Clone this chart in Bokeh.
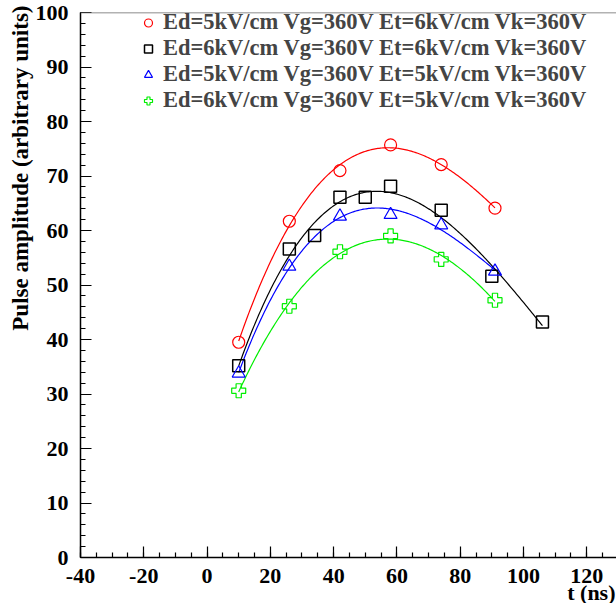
import numpy as np
from bokeh.plotting import figure
from bokeh.models import Range1d, Legend, LegendItem, FixedTicker, Span, Title
from bokeh.embed import file_html
from bokeh.resources import INLINE

FONT = "Liberation Serif"

# ---- data ----
x_major = [-40, -20, 0, 20, 40, 60, 80, 100, 120]
x_minor = [v for v in range(-40, 131, 5)]
y_major = [0, 10, 20, 30, 40, 50, 60, 70, 80, 90, 100]
y_minor = [v for v in range(0, 101, 2)]

x_title = "t (ns)"
y_title = "Pulse amplitude (arbitrary units)"

labels = [
    "Ed=5kV/cm Vg=360V Et=6kV/cm Vk=360V",
    "Ed=6kV/cm Vg=360V Et=6kV/cm Vk=360V",
    "Ed=5kV/cm Vg=360V Et=5kV/cm Vk=360V",
    "Ed=6kV/cm Vg=360V Et=5kV/cm Vk=360V",
]

t_red = [10, 26, 42, 58, 74, 91]
a_red = [39.5, 61.7, 71.0, 75.7, 72.1, 64.1]

t_black = [10, 26, 34, 42, 50, 58, 74, 90, 106]
a_black = [35.2, 56.6, 59.1, 66.1, 66.1, 68.1, 63.7, 51.6, 43.2]

t_blue = [10, 26, 42, 58, 74, 91]
a_blue = [33.8, 53.4, 62.6, 62.9, 61.0, 52.5]

t_green = [10, 26, 42, 58, 74, 91]
a_green = [30.6, 46.1, 56.1, 59.0, 54.7, 47.2]

p = figure(width=616, height=603,
           x_range=Range1d(-40, 129.4), y_range=Range1d(0, 100),
           output_backend="svg", toolbar_location=None,
           min_border_left=80, min_border_right=0,
           min_border_top=12, min_border_bottom=46)
p.outline_line_color = None
p.xgrid.visible = False
p.ygrid.visible = False
p.background_fill_color = "white"

for ax, majors, minors in ((p.xaxis[0], x_major, x_minor), (p.yaxis[0], y_major, y_minor)):
    ax.ticker = FixedTicker(ticks=majors, minor_ticks=minors)
    ax.major_label_overrides = {v: str(v) for v in majors}
    ax.major_tick_in = 11
    ax.major_tick_out = 0
    ax.minor_tick_in = 5
    ax.minor_tick_out = 0
    ax.axis_line_width = 1.5
    ax.axis_line_color = "black"
    ax.major_tick_line_width = 1.2
    ax.minor_tick_line_width = 1.2
    ax.major_label_text_font = FONT
    ax.major_label_text_font_style = "bold"
    ax.major_label_text_font_size = "22px"
    ax.major_label_text_color = "black"

p.xaxis.major_label_standoff = 11
p.yaxis.major_label_standoff = 12

p.add_layout(Title(text=x_title, align="right", text_font=FONT, text_font_style="bold",
                   text_font_size="22px", text_color="black", standoff=-15, offset=1), "below")
p.add_layout(Title(text=y_title, align="right", text_font=FONT, text_font_style="bold",
                   text_font_size="23px", text_color="black", standoff=0, offset=-7), "left")

p.add_layout(Span(location=100, dimension="width", line_color="#666666", line_width=1.5))

def fit_curve(t, a, color):
    coef = np.polyfit(t, a, 3)
    xs = np.linspace(min(t), max(t), 200)
    p.line(xs, np.polyval(coef, xs), line_color=color, line_width=1.2)

fit_curve(t_red, a_red, "#ff0000")
fit_curve(t_black, a_black, "#000000")
fit_curve(t_blue, a_blue, "#0000ff")
fit_curve(t_green, a_green, "#00ee00")

r1 = p.scatter(t_red, a_red, marker="circle", size=12, fill_color=None, line_color="#ff0000", line_width=1.2)
r2 = p.scatter(t_black, a_black, marker="square", size=12, fill_color=None, line_color="#000000", line_width=1.5)
r3 = p.scatter(t_blue, a_blue, marker="triangle", size=13, fill_color=None, line_color="#0000ff", line_width=1.2)
r4 = p.scatter(t_green, a_green, marker="plus", size=14, fill_color=None, line_color="#00ee00", line_width=1.2)

legend = Legend(items=[LegendItem(label=labels[i], renderers=[r]) for i, r in enumerate([r1, r2, r3, r4])],
                location=(58, 444), padding=0, spacing=-1, margin=0,
                glyph_width=20, glyph_height=25, label_height=25, label_standoff=5,
                label_text_font=FONT, label_text_font_style="bold", label_text_font_size="22.5px",
                label_text_line_height=1.0,
                background_fill_alpha=0, border_line_color=None)
p.add_layout(legend)

open("out.html", "w").write(file_html(p, INLINE))
